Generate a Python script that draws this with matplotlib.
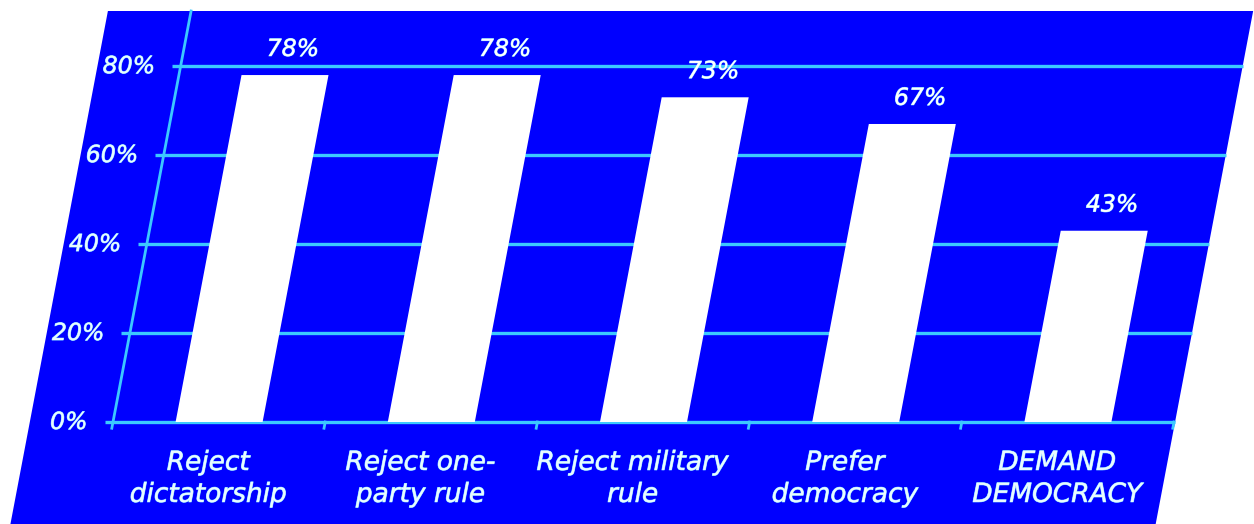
import numpy as np
import matplotlib
matplotlib.use("Agg")
import matplotlib.pyplot as plt
import matplotlib.patheffects as pe
from matplotlib.patches import Rectangle
from matplotlib.transforms import Affine2D

# data
categories = ["Reject\ndictatorship", "Reject one-\nparty rule", "Reject military\nrule",
              "Prefer\ndemocracy", "DEMAND\nDEMOCRACY"]
values = [78, 78, 73, 67, 43]
value_labels = ["78%", "78%", "73%", "67%", "43%"]
yticks = [0, 20, 40, 60, 80]
ytick_labels = ["0%", "20%", "40%", "60%", "80%"]

blue = "#0000ff"
cyan = "#3cc8ff"
txt = "#eafaff"
k = 0.19  # horizontal shear (px per px)

W, H = 1254, 524
fig = plt.figure(figsize=(W / 100, H / 100), dpi=100)
fig.patch.set_facecolor("white")
ax = fig.add_axes([113 / W, 102 / H, 1061 / W, 411 / H])
ax.set_xlim(-0.5, 4.5)
ax.set_ylim(0, 92.4)
ax.axis("off")

y0 = ax.transData.transform((0, 0))[1]
shear = Affine2D().translate(0, -y0).skew(np.arctan(k), 0).translate(0, y0)
T = ax.transData + shear
glow = [pe.withStroke(linewidth=0.6, foreground="#7fdcff")]

# blue sheared background
bg = Rectangle((-0.892, -23.5), 4.505 + 0.892, 92.4 + 23.5, facecolor=blue,
               edgecolor="none", transform=T, clip_on=False, zorder=0)
ax.add_patch(bg)

# gridlines
for t in yticks:
    ax.plot([-0.54, 4.505], [t, t], color=cyan, lw=2.4, transform=T,
            clip_on=False, zorder=1, solid_capstyle="butt")

# y axis line and category ticks
ax.plot([-0.5, -0.5], [-1.4, 92.4], color=cyan, lw=2, transform=T, clip_on=False, zorder=2)
for b in np.arange(0.5, 5, 1):
    ax.plot([b, b], [0, -1.4], color=cyan, lw=2, transform=T, clip_on=False, zorder=2)

x = np.arange(len(categories))
bars = ax.bar(x, values, width=0.41, color="white", zorder=3)
for b in bars:
    b.set_transform(T)
    b.set_clip_on(False)

for xi, v, lab in zip(x, values, value_labels):
    ax.text(xi + 0.02, v + 4.3, lab, ha="center", va="baseline", color="white",
            fontsize=17, style="italic", transform=T, clip_on=False, zorder=4,
            path_effects=glow)

for t, lab in zip(yticks, ytick_labels):
    ax.text(-0.5 - 0.12, t, lab, ha="right", va="center", color=txt,
            fontsize=17, style="italic", transform=T, clip_on=False, zorder=4,
            path_effects=glow)

for xi, lab in zip(x, categories):
    ax.text(xi, -12.8, lab, ha="center", va="center", color=txt,
            fontsize=19, style="italic", linespacing=1.3,
            transform=T, clip_on=False, zorder=4, path_effects=glow)

fig.savefig("out.png", dpi=100, facecolor="white")
